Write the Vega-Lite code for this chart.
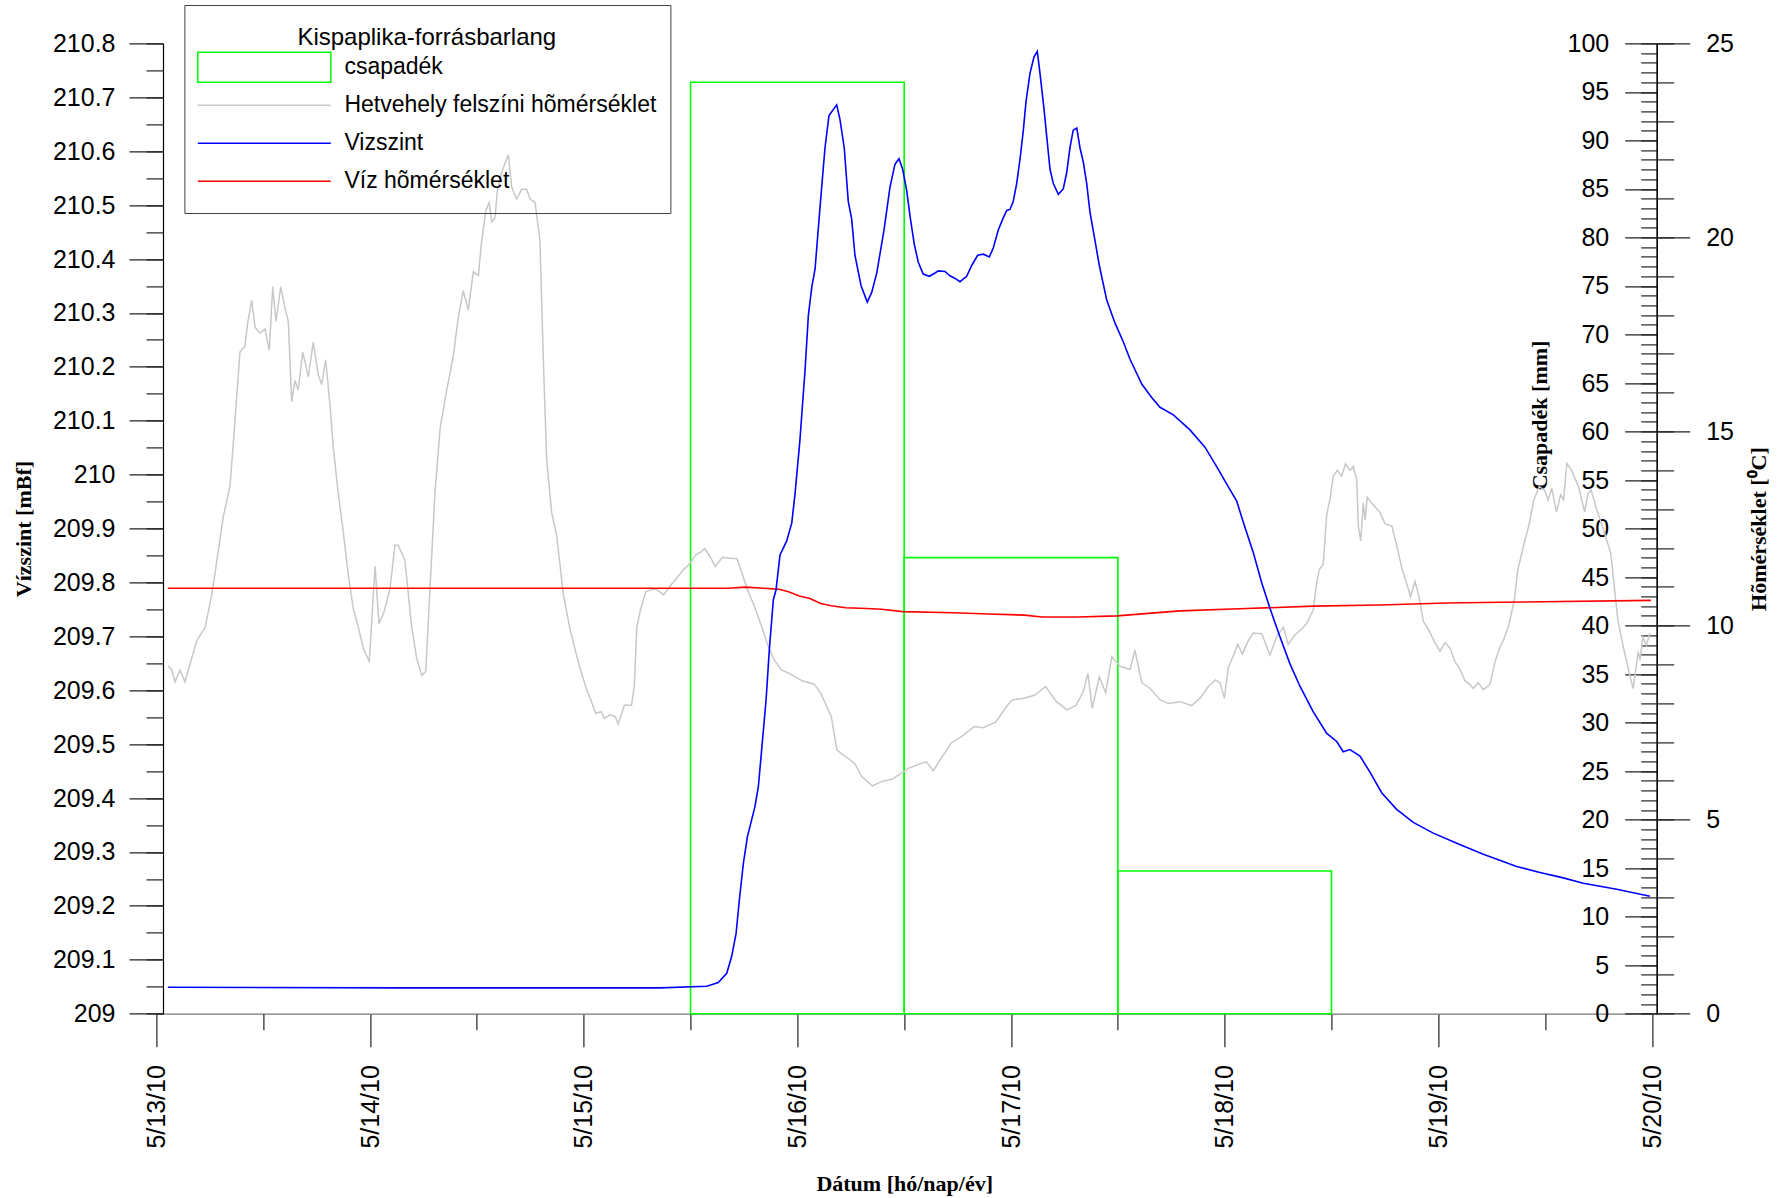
{
  "$schema": "https://vega.github.io/schema/vega-lite/v6.json",
  "width": 1495.6,
  "height": 970.3,
  "autosize": {"type": "none"},
  "padding": {"left": 156.4, "top": 43.4, "right": 138, "bottom": 184.3},
  "background": "white",
  "config": {
    "view": {"stroke": null},
    "axis": {
      "labelFont": "Liberation Sans", "labelFontSize": 25, "labelColor": "black",
      "titleFont": "Liberation Serif", "titleFontSize": 22, "titleFontWeight": "bold", "titleColor": "black",
      "domainColor": "black", "tickColor": "#222", "grid": false, "domainWidth": 1.2, "tickWidth": 1.2,
      "labelOverlap": false, "labelFlush": false
    }
  },
  "datasets": {
    "rain": [
      {"start": "2010-05-15T12:00", "end": "2010-05-16T12:00", "mm": 96.0},
      {"start": "2010-05-16T12:00", "end": "2010-05-17T12:00", "mm": 47.0},
      {"start": "2010-05-17T12:00", "end": "2010-05-18T12:00", "mm": 14.7}
    ],
    "air": [
      {"t":"2010-05-13T01:20","c":8.96},{"t":"2010-05-13T01:43","c":8.87},{"t":"2010-05-13T02:05","c":8.55},{"t":"2010-05-13T02:39","c":8.85},
      {"t":"2010-05-13T03:13","c":8.55},{"t":"2010-05-13T03:58","c":9.16},{"t":"2010-05-13T04:32","c":9.61},{"t":"2010-05-13T05:28","c":9.95},
      {"t":"2010-05-13T06:13","c":10.79},{"t":"2010-05-13T06:57","c":11.92},{"t":"2010-05-13T07:31","c":12.81},{"t":"2010-05-13T08:16","c":13.6},
      {"t":"2010-05-13T08:38","c":14.68},{"t":"2010-05-13T09:01","c":15.87},{"t":"2010-05-13T09:23","c":17.05},{"t":"2010-05-13T09:57","c":17.2},
      {"t":"2010-05-13T10:13","c":17.74},{"t":"2010-05-13T10:42","c":18.38},{"t":"2010-05-13T11:05","c":17.69},{"t":"2010-05-13T11:38","c":17.54},
      {"t":"2010-05-13T12:12","c":17.64},{"t":"2010-05-13T12:41","c":17.1},{"t":"2010-05-13T13:04","c":18.73},{"t":"2010-05-13T13:26","c":17.84},
      {"t":"2010-05-13T13:58","c":18.73},{"t":"2010-05-13T14:27","c":18.18},{"t":"2010-05-13T14:49","c":17.84},{"t":"2010-05-13T15:12","c":15.77},
      {"t":"2010-05-13T15:34","c":16.31},{"t":"2010-05-13T15:56","c":16.07},{"t":"2010-05-13T16:26","c":17.05},{"t":"2010-05-13T17:04","c":16.41},
      {"t":"2010-05-13T17:37","c":17.3},{"t":"2010-05-13T18:11","c":16.46},{"t":"2010-05-13T18:34","c":16.21},{"t":"2010-05-13T19:01","c":16.85},
      {"t":"2010-05-13T19:30","c":15.67},{"t":"2010-05-13T19:52","c":14.59},{"t":"2010-05-13T20:26","c":13.4},{"t":"2010-05-13T20:59","c":12.42},
      {"t":"2010-05-13T21:34","c":11.28},{"t":"2010-05-13T22:07","c":10.44},{"t":"2010-05-13T22:41","c":9.95},{"t":"2010-05-13T23:19","c":9.36},
      {"t":"2010-05-13T23:55","c":9.08},{"t":"2010-05-14T00:34","c":11.53},{"t":"2010-05-14T01:00","c":10.05},{"t":"2010-05-14T01:34","c":10.35},
      {"t":"2010-05-14T02:14","c":10.94},{"t":"2010-05-14T02:48","c":12.07},{"t":"2010-05-14T03:10","c":12.07},{"t":"2010-05-14T03:55","c":11.68},
      {"t":"2010-05-14T04:41","c":9.95},{"t":"2010-05-14T05:14","c":9.16},{"t":"2010-05-14T05:48","c":8.72},{"t":"2010-05-14T06:15","c":8.82},
      {"t":"2010-05-14T06:44","c":10.94},{"t":"2010-05-14T07:17","c":13.4},{"t":"2010-05-14T07:52","c":15.08},{"t":"2010-05-14T08:37","c":16.07},
      {"t":"2010-05-14T09:21","c":16.95},{"t":"2010-05-14T09:55","c":17.94},{"t":"2010-05-14T10:28","c":18.63},{"t":"2010-05-14T11:02","c":18.13},
      {"t":"2010-05-14T11:36","c":19.12},{"t":"2010-05-14T12:10","c":19.02},{"t":"2010-05-14T12:32","c":19.91},{"t":"2010-05-14T13:01","c":20.7},
      {"t":"2010-05-14T13:23","c":20.9},{"t":"2010-05-14T13:40","c":20.4},{"t":"2010-05-14T14:02","c":20.5},{"t":"2010-05-14T14:17","c":21.19},
      {"t":"2010-05-14T14:47","c":21.68},{"t":"2010-05-14T15:32","c":22.13},{"t":"2010-05-14T15:55","c":21.29},{"t":"2010-05-14T16:28","c":20.99},
      {"t":"2010-05-14T17:02","c":21.24},{"t":"2010-05-14T17:36","c":21.24},{"t":"2010-05-14T17:58","c":20.99},{"t":"2010-05-14T18:32","c":20.9},
      {"t":"2010-05-14T19:05","c":19.91},{"t":"2010-05-14T19:28","c":16.85},{"t":"2010-05-14T19:50","c":14.29},{"t":"2010-05-14T20:24","c":12.91},
      {"t":"2010-05-14T20:58","c":12.32},{"t":"2010-05-14T21:43","c":10.8},{"t":"2010-05-14T22:28","c":9.9},{"t":"2010-05-14T23:01","c":9.4},
      {"t":"2010-05-14T23:35","c":8.9},{"t":"2010-05-15T00:21","c":8.34},{"t":"2010-05-15T00:56","c":8.0},{"t":"2010-05-15T01:21","c":7.74},
      {"t":"2010-05-15T01:57","c":7.78},{"t":"2010-05-15T02:20","c":7.61},{"t":"2010-05-15T02:57","c":7.7},{"t":"2010-05-15T03:34","c":7.65},
      {"t":"2010-05-15T03:52","c":7.46},{"t":"2010-05-15T04:34","c":7.95},{"t":"2010-05-15T05:22","c":7.95},{"t":"2010-05-15T05:41","c":8.43},
      {"t":"2010-05-15T05:58","c":9.97},{"t":"2010-05-15T06:22","c":10.4},{"t":"2010-05-15T06:58","c":10.87},{"t":"2010-05-15T07:34","c":10.92},
      {"t":"2010-05-15T08:10","c":10.94},{"t":"2010-05-15T08:58","c":10.79},{"t":"2010-05-15T09:58","c":11.09},{"t":"2010-05-15T10:35","c":11.26},
      {"t":"2010-05-15T11:10","c":11.43},{"t":"2010-05-15T11:47","c":11.56},{"t":"2010-05-15T12:35","c":11.82},{"t":"2010-05-15T13:11","c":11.9},
      {"t":"2010-05-15T13:35","c":11.99},{"t":"2010-05-15T14:11","c":11.78},{"t":"2010-05-15T14:47","c":11.52},{"t":"2010-05-15T15:35","c":11.76},
      {"t":"2010-05-15T16:35","c":11.73},{"t":"2010-05-15T17:12","c":11.73},{"t":"2010-05-15T17:47","c":11.35},{"t":"2010-05-15T18:24","c":10.92},
      {"t":"2010-05-15T19:11","c":10.49},{"t":"2010-05-15T20:00","c":9.97},{"t":"2010-05-15T20:36","c":9.54},{"t":"2010-05-15T21:25","c":9.11},
      {"t":"2010-05-15T22:13","c":8.86},{"t":"2010-05-15T23:13","c":8.75},{"t":"2010-05-16T00:37","c":8.57},{"t":"2010-05-16T01:54","c":8.49},
      {"t":"2010-05-16T02:37","c":8.26},{"t":"2010-05-16T03:49","c":7.65},{"t":"2010-05-16T04:26","c":6.79},{"t":"2010-05-16T05:26","c":6.62},
      {"t":"2010-05-16T06:26","c":6.45},{"t":"2010-05-16T07:14","c":6.11},{"t":"2010-05-16T08:26","c":5.87},{"t":"2010-05-16T09:26","c":5.98},
      {"t":"2010-05-16T10:38","c":6.04},{"t":"2010-05-16T11:39","c":6.19},{"t":"2010-05-16T12:27","c":6.32},{"t":"2010-05-16T13:27","c":6.41},
      {"t":"2010-05-16T14:28","c":6.49},{"t":"2010-05-16T15:16","c":6.26},{"t":"2010-05-16T16:16","c":6.62},{"t":"2010-05-16T17:16","c":6.97},
      {"t":"2010-05-16T18:40","c":7.18},{"t":"2010-05-16T19:52","c":7.4},{"t":"2010-05-16T20:52","c":7.37},{"t":"2010-05-16T22:17","c":7.52},
      {"t":"2010-05-16T23:29","c":7.91},{"t":"2010-05-17T00:05","c":8.08},{"t":"2010-05-17T01:29","c":8.13},{"t":"2010-05-17T02:41","c":8.21},
      {"t":"2010-05-17T03:53","c":8.43},{"t":"2010-05-17T05:06","c":8.04},{"t":"2010-05-17T06:18","c":7.83},{"t":"2010-05-17T07:19","c":7.95},
      {"t":"2010-05-17T08:07","c":8.3},{"t":"2010-05-17T08:38","c":8.77},{"t":"2010-05-17T09:07","c":7.87},{"t":"2010-05-17T09:55","c":8.68},
      {"t":"2010-05-17T10:38","c":8.27},{"t":"2010-05-17T11:19","c":9.2},{"t":"2010-05-17T12:14","c":8.95},{"t":"2010-05-17T13:22","c":8.87},
      {"t":"2010-05-17T13:55","c":9.37},{"t":"2010-05-17T14:41","c":8.53},{"t":"2010-05-17T15:37","c":8.38},{"t":"2010-05-17T16:44","c":8.09},
      {"t":"2010-05-17T17:40","c":7.99},{"t":"2010-05-17T18:59","c":8.04},{"t":"2010-05-17T20:17","c":7.94},{"t":"2010-05-17T21:14","c":8.13},
      {"t":"2010-05-17T22:10","c":8.43},{"t":"2010-05-17T22:59","c":8.6},{"t":"2010-05-17T23:28","c":8.53},{"t":"2010-05-17T23:58","c":8.13},
      {"t":"2010-05-18T00:24","c":8.92},{"t":"2010-05-18T00:58","c":9.22},{"t":"2010-05-18T01:28","c":9.52},{"t":"2010-05-18T01:59","c":9.27},
      {"t":"2010-05-18T02:39","c":9.61},{"t":"2010-05-18T03:13","c":9.81},{"t":"2010-05-18T04:10","c":9.79},{"t":"2010-05-18T05:05","c":9.24},
      {"t":"2010-05-18T05:50","c":9.71},{"t":"2010-05-18T06:35","c":9.96},{"t":"2010-05-18T07:08","c":9.52},{"t":"2010-05-18T07:54","c":9.76},
      {"t":"2010-05-18T08:39","c":9.91},{"t":"2010-05-18T09:13","c":10.06},{"t":"2010-05-18T09:57","c":10.4},{"t":"2010-05-18T10:20","c":11.09},
      {"t":"2010-05-18T10:37","c":11.44},{"t":"2010-05-18T11:04","c":11.58},{"t":"2010-05-18T11:28","c":12.87},{"t":"2010-05-18T11:50","c":13.26},
      {"t":"2010-05-18T12:12","c":13.85},{"t":"2010-05-18T12:39","c":14.0},{"t":"2010-05-18T13:08","c":13.85},{"t":"2010-05-18T13:35","c":14.17},
      {"t":"2010-05-18T14:04","c":14.0},{"t":"2010-05-18T14:27","c":14.1},{"t":"2010-05-18T14:50","c":13.75},{"t":"2010-05-18T15:01","c":12.57},
      {"t":"2010-05-18T15:17","c":12.18},{"t":"2010-05-18T15:34","c":13.16},{"t":"2010-05-18T15:46","c":12.72},{"t":"2010-05-18T16:01","c":13.31},
      {"t":"2010-05-18T16:41","c":13.11},{"t":"2010-05-18T17:26","c":12.92},{"t":"2010-05-18T18:01","c":12.62},{"t":"2010-05-18T18:46","c":12.57},
      {"t":"2010-05-18T19:19","c":12.08},{"t":"2010-05-18T19:53","c":11.49},{"t":"2010-05-18T20:26","c":11.09},{"t":"2010-05-18T20:53","c":10.75},
      {"t":"2010-05-18T21:23","c":11.14},{"t":"2010-05-18T21:52","c":10.7},{"t":"2010-05-18T22:19","c":10.11},{"t":"2010-05-18T22:52","c":9.91},
      {"t":"2010-05-18T23:37","c":9.56},{"t":"2010-05-19T00:11","c":9.34},{"t":"2010-05-19T00:45","c":9.56},{"t":"2010-05-19T01:19","c":9.42},
      {"t":"2010-05-19T01:52","c":9.07},{"t":"2010-05-19T02:26","c":8.87},{"t":"2010-05-19T02:59","c":8.58},{"t":"2010-05-19T03:33","c":8.48},
      {"t":"2010-05-19T03:55","c":8.38},{"t":"2010-05-19T04:29","c":8.53},{"t":"2010-05-19T05:03","c":8.35},{"t":"2010-05-19T05:48","c":8.48},
      {"t":"2010-05-19T06:22","c":9.07},{"t":"2010-05-19T06:55","c":9.45},{"t":"2010-05-19T07:20","c":9.63},{"t":"2010-05-19T07:55","c":10.02},
      {"t":"2010-05-19T08:32","c":10.66},{"t":"2010-05-19T08:56","c":11.43},{"t":"2010-05-19T09:32","c":12.03},{"t":"2010-05-19T10:08","c":12.55},
      {"t":"2010-05-19T10:44","c":13.24},{"t":"2010-05-19T11:20","c":13.58},{"t":"2010-05-19T11:56","c":13.49},{"t":"2010-05-19T12:20","c":13.24},
      {"t":"2010-05-19T12:44","c":13.54},{"t":"2010-05-19T13:16","c":12.93},{"t":"2010-05-19T13:44","c":13.37},{"t":"2010-05-19T14:04","c":13.24},
      {"t":"2010-05-19T14:26","c":14.18},{"t":"2010-05-19T14:56","c":14.01},{"t":"2010-05-19T15:45","c":13.58},{"t":"2010-05-19T16:26","c":12.93},
      {"t":"2010-05-19T16:50","c":13.41},{"t":"2010-05-19T17:10","c":13.49},{"t":"2010-05-19T17:45","c":13.02},{"t":"2010-05-19T18:34","c":12.46},
      {"t":"2010-05-19T19:22","c":11.86},{"t":"2010-05-19T19:46","c":11.0},{"t":"2010-05-19T20:10","c":10.14},{"t":"2010-05-19T20:46","c":9.46},
      {"t":"2010-05-19T21:22","c":8.86},{"t":"2010-05-19T21:53","c":8.38},{"t":"2010-05-19T22:10","c":8.86},{"t":"2010-05-19T22:27","c":9.33},
      {"t":"2010-05-19T22:39","c":9.11},{"t":"2010-05-19T22:58","c":9.71},{"t":"2010-05-19T23:22","c":9.5},{"t":"2010-05-19T23:46","c":9.8}
    ],
    "water": [
      {"t":"2010-05-13T01:17","c":10.96},{"t":"2010-05-14T21:20","c":10.96},{"t":"2010-05-15T16:12","c":10.96},{"t":"2010-05-15T18:11","c":10.99},
      {"t":"2010-05-15T20:13","c":10.96},{"t":"2010-05-15T21:49","c":10.94},{"t":"2010-05-15T23:01","c":10.87},{"t":"2010-05-16T00:13","c":10.76},
      {"t":"2010-05-16T01:25","c":10.7},{"t":"2010-05-16T02:37","c":10.57},{"t":"2010-05-16T03:49","c":10.51},{"t":"2010-05-16T05:26","c":10.46},
      {"t":"2010-05-16T07:50","c":10.44},{"t":"2010-05-16T09:26","c":10.42},{"t":"2010-05-16T11:51","c":10.36},{"t":"2010-05-16T17:28","c":10.33},
      {"t":"2010-05-16T21:29","c":10.3},{"t":"2010-05-17T01:29","c":10.27},{"t":"2010-05-17T03:29","c":10.22},{"t":"2010-05-17T07:31","c":10.22},
      {"t":"2010-05-17T11:55","c":10.25},{"t":"2010-05-17T18:59","c":10.38},{"t":"2010-05-18T02:28","c":10.44},{"t":"2010-05-18T09:57","c":10.5},
      {"t":"2010-05-18T17:26","c":10.53},{"t":"2010-05-19T00:56","c":10.58},{"t":"2010-05-19T06:55","c":10.6},{"t":"2010-05-19T23:53","c":10.65}
    ],
    "level": [
      {"t":"2010-05-13T01:17","v":209.049},{"t":"2010-05-14T03:22","v":209.048},{"t":"2010-05-14T21:20","v":209.048},{"t":"2010-05-15T08:34","v":209.048},
      {"t":"2010-05-15T13:49","v":209.051},{"t":"2010-05-15T15:07","v":209.058},{"t":"2010-05-15T16:04","v":209.075},{"t":"2010-05-15T16:37","v":209.106},
      {"t":"2010-05-15T17:07","v":209.149},{"t":"2010-05-15T17:29","v":209.211},{"t":"2010-05-15T17:56","v":209.279},{"t":"2010-05-15T18:23","v":209.328},
      {"t":"2010-05-15T19:14","v":209.384},{"t":"2010-05-15T19:37","v":209.421},{"t":"2010-05-15T19:59","v":209.489},{"t":"2010-05-15T20:29","v":209.582},
      {"t":"2010-05-15T20:51","v":209.675},{"t":"2010-05-15T21:18","v":209.768},{"t":"2010-05-15T21:36","v":209.786},{"t":"2010-05-15T22:03","v":209.851},
      {"t":"2010-05-15T22:48","v":209.877},{"t":"2010-05-15T23:22","v":209.91},{"t":"2010-05-15T23:44","v":209.964},{"t":"2010-05-16T00:17","v":210.063},
      {"t":"2010-05-16T00:52","v":210.195},{"t":"2010-05-16T01:14","v":210.295},{"t":"2010-05-16T01:37","v":210.348},{"t":"2010-05-16T01:59","v":210.381},
      {"t":"2010-05-16T02:32","v":210.494},{"t":"2010-05-16T03:06","v":210.606},{"t":"2010-05-16T03:33","v":210.666},{"t":"2010-05-16T04:25","v":210.686},
      {"t":"2010-05-16T04:47","v":210.659},{"t":"2010-05-16T05:16","v":210.606},{"t":"2010-05-16T05:43","v":210.507},{"t":"2010-05-16T06:06","v":210.474},
      {"t":"2010-05-16T06:28","v":210.407},{"t":"2010-05-16T07:09","v":210.351},{"t":"2010-05-16T07:51","v":210.32},{"t":"2010-05-16T08:21","v":210.338},
      {"t":"2010-05-16T08:55","v":210.374},{"t":"2010-05-16T09:44","v":210.454},{"t":"2010-05-16T10:24","v":210.533},{"t":"2010-05-16T10:58","v":210.576},
      {"t":"2010-05-16T11:25","v":210.586},{"t":"2010-05-16T11:50","v":210.566},{"t":"2010-05-16T12:17","v":210.527},{"t":"2010-05-16T12:39","v":210.48},
      {"t":"2010-05-16T13:08","v":210.427},{"t":"2010-05-16T13:35","v":210.394},{"t":"2010-05-16T14:08","v":210.372},{"t":"2010-05-16T14:49","v":210.368},
      {"t":"2010-05-16T15:28","v":210.374},{"t":"2010-05-16T15:50","v":210.378},{"t":"2010-05-16T16:35","v":210.377},{"t":"2010-05-16T17:08","v":210.369},
      {"t":"2010-05-16T17:43","v":210.364},{"t":"2010-05-16T18:16","v":210.358},{"t":"2010-05-16T19:01","v":210.368},{"t":"2010-05-16T19:35","v":210.388},
      {"t":"2010-05-16T20:15","v":210.407},{"t":"2010-05-16T20:53","v":210.409},{"t":"2010-05-16T21:34","v":210.404},{"t":"2010-05-16T22:01","v":210.421},
      {"t":"2010-05-16T22:34","v":210.454},{"t":"2010-05-16T23:04","v":210.474},{"t":"2010-05-16T23:31","v":210.49},{"t":"2010-05-16T23:53","v":210.492},
      {"t":"2010-05-17T00:15","v":210.507},{"t":"2010-05-17T00:38","v":210.54},{"t":"2010-05-17T01:01","v":210.586},{"t":"2010-05-17T01:23","v":210.639},
      {"t":"2010-05-17T01:41","v":210.692},{"t":"2010-05-17T02:08","v":210.745},{"t":"2010-05-17T02:35","v":210.775},{"t":"2010-05-17T02:57","v":210.785},
      {"t":"2010-05-17T03:15","v":210.745},{"t":"2010-05-17T03:42","v":210.679},{"t":"2010-05-17T04:01","v":210.626},{"t":"2010-05-17T04:23","v":210.566},
      {"t":"2010-05-17T04:45","v":210.54},{"t":"2010-05-17T05:19","v":210.52},{"t":"2010-05-17T05:52","v":210.53},{"t":"2010-05-17T06:15","v":210.56},
      {"t":"2010-05-17T06:37","v":210.606},{"t":"2010-05-17T06:59","v":210.639},{"t":"2010-05-17T07:23","v":210.643},{"t":"2010-05-17T07:45","v":210.606},
      {"t":"2010-05-17T08:07","v":210.58},{"t":"2010-05-17T08:30","v":210.54},{"t":"2010-05-17T08:52","v":210.487},{"t":"2010-05-17T09:26","v":210.434},
      {"t":"2010-05-17T09:55","v":210.388},{"t":"2010-05-17T10:45","v":210.324},{"t":"2010-05-17T11:41","v":210.281},{"t":"2010-05-17T12:37","v":210.246},
      {"t":"2010-05-17T13:22","v":210.214},{"t":"2010-05-17T14:41","v":210.168},{"t":"2010-05-17T15:48","v":210.143},{"t":"2010-05-17T16:44","v":210.125},
      {"t":"2010-05-17T18:14","v":210.111},{"t":"2010-05-17T20:06","v":210.083},{"t":"2010-05-17T21:47","v":210.051},{"t":"2010-05-17T23:06","v":210.015},
      {"t":"2010-05-18T00:13","v":209.983},{"t":"2010-05-18T01:21","v":209.951},{"t":"2010-05-18T02:05","v":209.912},{"t":"2010-05-18T03:13","v":209.855},
      {"t":"2010-05-18T04:10","v":209.799},{"t":"2010-05-18T05:05","v":209.752},{"t":"2010-05-18T06:13","v":209.699},{"t":"2010-05-18T07:20","v":209.649},
      {"t":"2010-05-18T08:28","v":209.607},{"t":"2010-05-18T09:57","v":209.56},{"t":"2010-05-18T11:28","v":209.52},{"t":"2010-05-18T12:35","v":209.505},
      {"t":"2010-05-18T13:19","v":209.486},{"t":"2010-05-18T14:04","v":209.49},{"t":"2010-05-18T15:12","v":209.478},{"t":"2010-05-18T16:19","v":209.448},
      {"t":"2010-05-18T17:38","v":209.41},{"t":"2010-05-18T19:19","v":209.379},{"t":"2010-05-18T21:11","v":209.355},{"t":"2010-05-18T23:26","v":209.335},
      {"t":"2010-05-19T02:04","v":209.316},{"t":"2010-05-19T05:03","v":209.296},{"t":"2010-05-19T08:48","v":209.273},{"t":"2010-05-19T11:25","v":209.262},
      {"t":"2010-05-19T14:02","v":209.252},{"t":"2010-05-19T16:17","v":209.242},{"t":"2010-05-19T20:02","v":209.231},{"t":"2010-05-19T23:46","v":209.218}
    ]
  },
  "layer": [
    {
      "data": {"name": "rain"},
      "mark": {"type": "rect", "filled": false, "strokeWidth": 1.6},
      "encoding": {
        "x": {
          "field": "start", "type": "temporal",
          "scale": {"domain": [{"year": 2010, "month": 5, "date": 13, "hours": 0}, {"year": 2010, "month": 5, "date": 20, "hours": 0}]},
          "axis": {
            "orient": "bottom",
            "values": [
              {"year": 2010, "month": 5, "date": 13, "hours": 0}, {"year": 2010, "month": 5, "date": 14, "hours": 0},
              {"year": 2010, "month": 5, "date": 15, "hours": 0}, {"year": 2010, "month": 5, "date": 16, "hours": 0},
              {"year": 2010, "month": 5, "date": 17, "hours": 0}, {"year": 2010, "month": 5, "date": 18, "hours": 0},
              {"year": 2010, "month": 5, "date": 19, "hours": 0}, {"year": 2010, "month": 5, "date": 20, "hours": 0}
            ],
            "format": "%-m/%-d/%y", "labelAngle": -90, "tickSize": 33, "labelPadding": 18,
            "domainColor": "#777",
            "title": "Dátum [hó/nap/év]", "titleY": 170, "titleBaseline": "middle"
          }
        },
        "x2": {"field": "end"},
        "y": {
          "field": "mm", "type": "quantitative",
          "scale": {"domain": [0, 100], "nice": false, "zero": true},
          "axis": {
            "orient": "left", "offset": -1500.3,
            "values": [0, 5, 10, 15, 20, 25, 30, 35, 40, 45, 50, 55, 60, 65, 70, 75, 80, 85, 90, 95, 100],
            "format": "d", "tickSize": 32, "labelPadding": 16,
            "title": "Csapadék [mm]", "titleX": -117.7, "titleY": 371.6, "titleAngle": -90,
            "titleBaseline": "middle", "titleAlign": "center"
          }
        },
        "y2": {"datum": 0},
        "color": {
          "datum": "csapadék", "type": "nominal",
          "scale": {
            "domain": ["csapadék", "Hetvehely felszíni hõmérséklet", "Vizszint", "Víz hõmérséklet"],
            "range": ["#00ff00", "#c8c8c8", "#0000ff", "#ff0000"]
          },
          "legend": {
            "orient": "none", "legendX": 28, "legendY": -38.4, "direction": "vertical",
            "title": "Kispaplika-forrásbarlang",
            "titleFont": "Liberation Sans", "titleFontSize": 24, "titleFontWeight": "normal", "titleColor": "black",
            "titleAnchor": "middle", "titleAlign": "center", "titlePadding": 8.8, "titleLimit": 800,
            "labelFont": "Liberation Sans", "labelFontSize": 23, "labelColor": "black", "labelLimit": 800,
            "symbolSize": 900, "symbolOffset": 50.5, "labelOffset": 64.1, "symbolStrokeWidth": 1.5,
            "rowPadding": 2.0, "padding": 13.4, "strokeColor": "#444",
            "encode": {
              "title": {"update": {"dy": {"value": 8}}},
              "symbols": {
                "update": {
                  "shape": {"signal": "datum.value === 'csapadék' ? 'M-4.433,-1H4.433V1H-4.433Z' : 'M-4.433,-1M-4.433,1M-4.433,0H4.433'"},
                  "fill": {"value": "transparent"},
                  "stroke": {"scale": "color", "field": "value"},
                  "strokeWidth": {"value": 1.5},
                  "opacity": {"value": 1}
                }
              }
            }
          }
        }
      }
    },
    {
      "data": {"name": "rain"},
      "mark": {"type": "rect", "filled": false, "strokeOpacity": 0},
      "encoding": {
        "x": {
          "field": "start", "type": "temporal",
          "axis": {
            "orient": "bottom",
            "values": [
              {"year": 2010, "month": 5, "date": 13, "hours": 12}, {"year": 2010, "month": 5, "date": 14, "hours": 12},
              {"year": 2010, "month": 5, "date": 15, "hours": 12}, {"year": 2010, "month": 5, "date": 16, "hours": 12},
              {"year": 2010, "month": 5, "date": 17, "hours": 12}, {"year": 2010, "month": 5, "date": 18, "hours": 12},
              {"year": 2010, "month": 5, "date": 19, "hours": 12}
            ],
            "tickSize": 16, "labels": false, "domain": false, "title": null
          }
        },
        "x2": {"field": "end"},
        "y": {
          "field": "mm", "type": "quantitative",
          "scale": {"domain": [0, 100], "nice": false},
          "axis": {"orient": "left", "offset": -1500.3, "tickCount": 100, "tickSize": 16, "labels": false, "domain": false, "title": null}
        },
        "y2": {"datum": 0}
      }
    },
    {
      "data": {"name": "air"},
      "mark": {"type": "line", "strokeWidth": 1.5},
      "encoding": {
        "x": {"field": "t", "type": "temporal", "axis": null},
        "y": {
          "field": "c", "type": "quantitative",
          "scale": {"domain": [0, 25], "nice": false},
          "axis": {
            "orient": "right", "offset": 4.7, "values": [0, 5, 10, 15, 20, 25],
            "tickSize": 33, "labelPadding": 16,
            "title": "Hõmérséklet [⁰C]", "titleX": 101.3, "titleY": 485.15, "titleAngle": -90,
            "titleBaseline": "middle", "titleAlign": "center"
          }
        },
        "color": {"datum": "Hetvehely felszíni hõmérséklet", "type": "nominal"}
      }
    },
    {
      "data": {"name": "water"},
      "mark": {"type": "line", "strokeWidth": 1.6},
      "encoding": {
        "x": {"field": "t", "type": "temporal", "axis": null},
        "y": {
          "field": "c", "type": "quantitative",
          "scale": {"domain": [0, 25], "nice": false},
          "axis": {"orient": "right", "offset": 4.7, "tickCount": 25, "tickSize": 17, "labels": false, "domain": false, "title": null}
        },
        "color": {"datum": "Víz hõmérséklet", "type": "nominal"}
      }
    },
    {
      "data": {"name": "level"},
      "mark": {"type": "line", "strokeWidth": 1.6},
      "encoding": {
        "x": {"field": "t", "type": "temporal", "axis": null},
        "y": {
          "field": "v", "type": "quantitative",
          "scale": {"domain": [209, 210.8], "nice": false, "zero": false},
          "axis": {
            "orient": "left", "offset": -6.6,
            "values": [209, 209.1, 209.2, 209.3, 209.4, 209.5, 209.6, 209.7, 209.8, 209.9, 210, 210.1, 210.2, 210.3, 210.4, 210.5, 210.6, 210.7, 210.8],
            "format": "~f", "tickSize": 34, "labelPadding": 14,
            "title": "Vízszint [mBf]", "titleX": -140, "titleY": 485.15, "titleAngle": -90,
            "titleBaseline": "middle", "titleAlign": "center"
          }
        },
        "color": {"datum": "Vizszint", "type": "nominal"}
      }
    },
    {
      "data": {"name": "level"},
      "mark": {"type": "line", "opacity": 0},
      "encoding": {
        "x": {"field": "t", "type": "temporal", "axis": null},
        "y": {
          "field": "v", "type": "quantitative",
          "scale": {"domain": [209, 210.8], "nice": false, "zero": false},
          "axis": {"orient": "left", "offset": -6.6, "tickCount": 36, "tickSize": 17, "labels": false, "domain": false, "title": null}
        }
      }
    }
  ],
  "resolve": {"scale": {"y": "independent"}, "axis": {"x": "independent", "y": "independent"}}
}
